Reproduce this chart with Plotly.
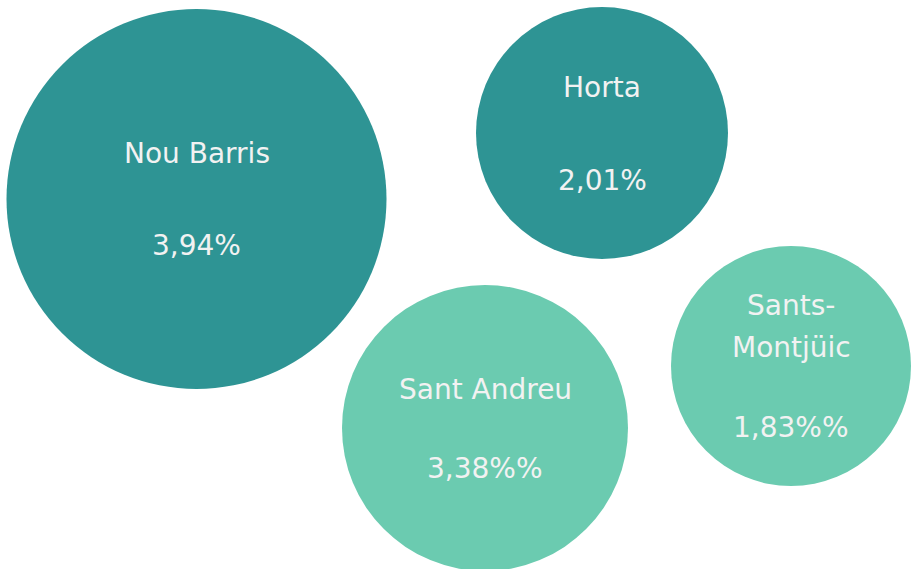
import plotly.graph_objects as go

# Data
districts = ["Nou Barris", "Horta", "Sant Andreu", "Sants-Montjüic"]
label_lines = [["Nou Barris"], ["Horta"], ["Sant Andreu"], ["Sants-", "Montjüic"]]
values = [3.94, 2.01, 3.38, 1.83]
value_labels = ["3,94%", "2,01%", "3,38%%", "1,83%%"]
groups = ["dark", "dark", "light", "light"]

# Layout of the packed bubbles (pixel space)
cx = [196.5, 602, 485, 791]
cy = [199, 133, 428, 366]
diam = [380, 252, 286, 240]
name_dy = [-46, -46, -39, -19]   # offset of the last name line
value_dy = [46, 47, 40, 61]
LINE_GAP = 42

palette = {"dark": "#2E9494", "light": "#6BCBB0"}
W, H = 921, 569
FONT = "DejaVu Sans"
TXT = "#F2F2F2"
FS = 28

fig = go.Figure()
fig.add_trace(go.Scatter(
    x=cx, y=cy, mode="markers",
    marker=dict(size=diam, sizemode="diameter", color=[palette[g] for g in groups],
                opacity=1, line=dict(width=0)),
    hoverinfo="text", text=[f"{d}: {v}" for d, v in zip(districts, values)],
    showlegend=False,
))

for i in range(len(districts)):
    lines = label_lines[i]
    n = len(lines)
    for j, ln in enumerate(lines):
        ny = cy[i] + name_dy[i] - (n - 1 - j) * LINE_GAP
        fig.add_annotation(x=cx[i], y=ny, text=ln, showarrow=False,
                           font=dict(family=FONT, size=FS, color=TXT),
                           xanchor="center", yanchor="middle")
    fig.add_annotation(x=cx[i], y=cy[i] + value_dy[i], text=value_labels[i], showarrow=False,
                       font=dict(family=FONT, size=FS, color=TXT),
                       xanchor="center", yanchor="middle")

fig.update_xaxes(range=[0, W], visible=False, fixedrange=True)
fig.update_yaxes(range=[H, 0], visible=False, fixedrange=True)
fig.update_layout(width=W, height=H, margin=dict(l=0, r=0, t=0, b=0),
                  paper_bgcolor="white", plot_bgcolor="white")

fig.write_html("out.html", config={"displayModeBar": False},
               post_script="document.body.style.margin='0';document.body.style.overflow='hidden';")
